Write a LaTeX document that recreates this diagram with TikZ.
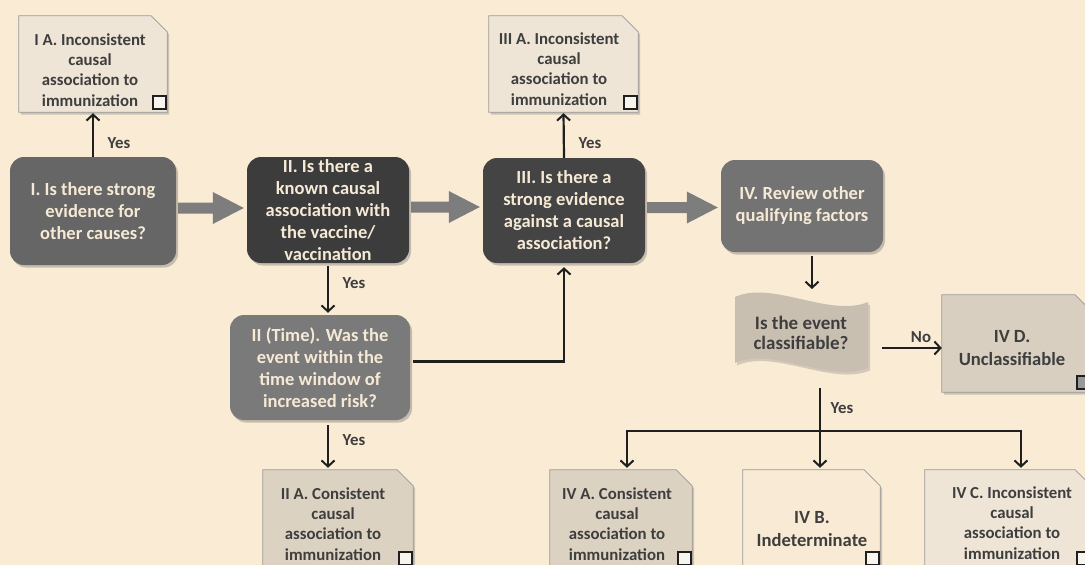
\documentclass[tikz,border=0pt]{standalone}
\usepackage{fontspec}
\setmainfont{Carlito}
\usetikzlibrary{arrows.meta,shadows,calc}
\definecolor{bg}{HTML}{FAEBD4}
\definecolor{boxI}{HTML}{666666}
\definecolor{boxII}{HTML}{3C3C3C}
\definecolor{boxIIT}{HTML}{7A7A7A}
\definecolor{boxIII}{HTML}{444444}
\definecolor{boxIV}{HTML}{737373}
\definecolor{boxtext}{HTML}{F6EAD6}
\definecolor{notelight}{HTML}{EEE5D6}
\definecolor{notedark}{HTML}{DCD2C2}
\definecolor{notepale}{HTML}{F8EAD4}
\definecolor{noteD}{HTML}{D8CFC0}
\definecolor{wavefill}{HTML}{C9BFB1}
\definecolor{inkc}{HTML}{1F1F1F}
\definecolor{notetextc}{HTML}{3E3E3E}
\definecolor{blockc}{HTML}{7D7D7D}
\newcommand\blockarrow[2]{%
  \coordinate (#1-bs) at ($(#1.east)+(2,-3)$);
  \coordinate (#1-tp) at ($(#2.west|-#1-bs)+(-3,0)$);
  \fill[blockarrow] ($(#1-bs)+(0,5.5)$) -- ($(#1-tp)+(-31,5.5)$) -- ($(#1-tp)+(-31,16)$) -- (#1-tp)
    -- ($(#1-tp)+(-31,-16)$) -- ($(#1-tp)+(-31,-5.5)$) -- ($(#1-bs)+(0,-5.5)$) -- cycle;}
\newcommand\notepoly[2]{%
  \filldraw[notedraw, fill=#2] (#1.south west) -- (#1.north west) -- ([xshift=-16pt]#1.north east)
    -- ([yshift=-16pt]#1.north east) -- (#1.south east) -- cycle;}
\begin{document}
\begin{tikzpicture}[x=1pt,y=-1pt,
  qbox/.style={rounded corners=14pt, inner sep=0pt, align=center, text=boxtext,
    font=\bfseries\fontsize{18.5}{22}\selectfont,
    drop shadow={shadow xshift=2pt, shadow yshift=-2.5pt, opacity=0.35, fill=black!60}},
  notebox/.style={rectangle, inner sep=0pt, draw=none},
  notedraw/.style={draw=black!40, line width=0.8pt,
    drop shadow={shadow xshift=2pt, shadow yshift=-2.5pt, opacity=0.3, fill=black!60}},
  notetext/.style={align=center, text=notetextc, inner sep=0pt,
    font=\bfseries\fontsize{16.8}{20.3}\selectfont},
  bignote/.style={align=center, text=notetextc, inner sep=0pt,
    font=\bfseries\fontsize{18.6}{23}\selectfont},
  chk/.style={draw=inkc, line width=2pt, fill=white!60!notelight, minimum width=13pt,
    minimum height=13pt, inner sep=0pt, anchor=south east},
  conn/.style={draw=inkc, line width=2.2pt, -{Straight Barb[length=6pt,width=13pt,line width=2pt]}},
  plain/.style={draw=inkc, line width=2.2pt},
  lbl/.style={text=notetextc, inner sep=0pt, font=\bfseries\fontsize{16.8}{18}\selectfont},
  blockarrow/.style={fill=blockc}
]
\useasboundingbox (0,0) rectangle (1085,565);
\clip (0,0) rectangle (1085,565);
\fill[bg] (0,0) rectangle (1085,565);

% question boxes
\node[qbox, fill=boxI, minimum width=166pt, minimum height=108pt] (q1) at (93,211)
  {I. Is there strong\\evidence for\\other causes?};
\node[qbox, fill=boxII, minimum width=162pt, minimum height=106pt] (q2) at (328,210)
  {II. Is there a\\known causal\\association with\\the vaccine/\\vaccination};
\node[qbox, fill=boxIIT, minimum width=180pt, minimum height=105pt] (q2t) at (320,367.5)
  {II (Time). Was the\\event within the\\time window of\\increased risk?};
\node[qbox, fill=boxIII, minimum width=162pt, minimum height=105pt] (q3) at (564,210.5)
  {III. Is there a\\strong evidence\\against a causal\\association?};
\node[qbox, fill=boxIV, minimum width=162pt, minimum height=92pt] (q4) at (802,206)
  {IV. Review other\\qualifying factors};

% wave decision
\fill[wavefill, drop shadow={shadow xshift=2pt, shadow yshift=-2.5pt, opacity=0.25, fill=black!60}]
  (735,297) .. controls (772,280) and (830,318) .. (868,302) -- (868,368)
  .. controls (830,384) and (772,346) .. (735,363) -- cycle;
\node[bignote, font=\bfseries\fontsize{19}{19.5}\selectfont] (cls) at (801,333) {Is the event\\classifiable?};

% notes
\node[notebox, minimum width=148pt, minimum height=96pt] (ia) at (93,64) {};
\notepoly{ia}{notelight}
\node[notetext] (ia-t) at (90,70) {I A. Inconsistent\\causal\\association to\\immunization};
\node[chk] (ia-c) at ([yshift=2pt]ia.south east) {};

\node[notebox, minimum width=149pt, minimum height=96pt] (iiia) at (563.5,64) {};
\notepoly{iiia}{notelight}
\node[notetext] (iiia-t) at (559,69) {III A. Inconsistent\\causal\\association to\\immunization};
\node[chk] (iiia-c) at ([yshift=2pt]iiia.south east) {};

\node[notebox, minimum width=150pt, minimum height=98pt] (iia) at (338,519) {};
\notepoly{iia}{notedark}
\node[notetext] (iia-t) at (333,524) {II A. Consistent\\causal\\association to\\immunization};
\node[chk] (iia-c) at ([yshift=2pt]iia.south east) {};

\node[notebox, minimum width=142pt, minimum height=98pt] (iva) at (621,519) {};
\notepoly{iva}{notedark}
\node[notetext] (iva-t) at (617,524) {IV A. Consistent\\causal\\association to\\immunization};
\node[chk] (iva-c) at ([yshift=2pt]iva.south east) {};

\node[notebox, minimum width=137pt, minimum height=98pt] (ivb) at (811.5,519) {};
\notepoly{ivb}{notepale}
\node[bignote] (ivb-t) at (812,529) {IV B.\\Indeterminate};
\node[chk] (ivb-c) at ([yshift=2pt]ivb.south east) {};

\node[notebox, minimum width=166pt, minimum height=98pt] (ivc) at (1008,519) {};
\notepoly{ivc}{notelight}
\node[notetext] (ivc-t) at (1012,523) {IV C. Inconsistent\\causal\\association to\\immunization};
\node[chk] (ivc-c) at ([yshift=2pt]ivc.south east) {};

\node[notebox, minimum width=149pt, minimum height=97pt] (ivd) at (1016.5,343.5) {};
\notepoly{ivd}{noteD}
\node[bignote] (ivd-t) at (1012,348) {IV D.\\Unclassifiable};
\node[chk, fill=black!40] (ivd-c) at ([yshift=2pt]ivd.south east) {};

% block arrows
\blockarrow{q1}{q2}
\blockarrow{q2}{q3}
\blockarrow{q3}{q4}

% connectors
\draw[conn, shorten >=1pt] (q1.north) -- (ia.south);
\draw[conn, shorten >=1pt] (q3.north) -- (iiia.south);
\draw[conn, shorten <=3pt, shorten >=2pt] (q2.south) -- (q2.south |- q2t.north);
\draw[conn, shorten <=3pt, shorten >=4pt] ([yshift=6pt]q2t.east) -| (q3.south);
\draw[conn, shorten <=5pt, shorten >=2pt] (q2t.south -| q2.south) -- (iia.north -| q2.south);
\coordinate (clsin) at (812,289);
\draw[conn, shorten <=4pt] (q4.south -| clsin) -- (clsin);
\coordinate (nostart) at (882,348);
\draw[conn] (nostart) -- (nostart -| ivd.west);
\coordinate (yesout) at (820,388);
\coordinate (split) at (820,431);
\draw[plain] (yesout) -- (split);
\draw[conn, shorten >=2pt] (split) -| ($(iva.north)+(6,0)$);
\draw[conn, shorten >=2pt] (split) -- (split |- ivb.north);
\draw[conn, shorten >=2pt] (split) -| ($(ivc.north)+(13,0)$);

% labels
\node[lbl] (y1) at (119,143) {Yes};
\node[lbl] (y3) at (590,143) {Yes};
\node[lbl] (y2) at (354,283) {Yes};
\node[lbl] (y2t) at (354,440) {Yes};
\node[lbl] (y4) at (842,408) {Yes};
\node[lbl] (n4) at (921,337) {No};
\end{tikzpicture}
\end{document}
